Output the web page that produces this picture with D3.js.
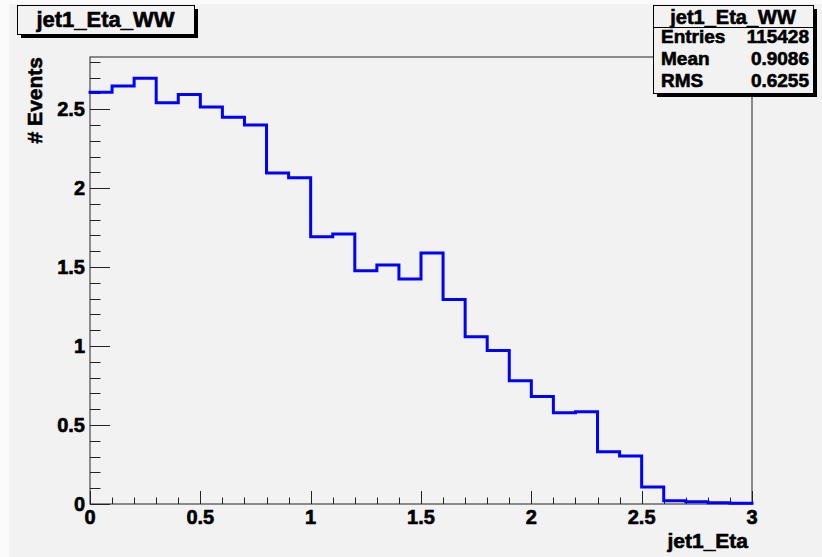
<!DOCTYPE html>
<html>
<head>
<meta charset="utf-8">
<script src="https://cdn.jsdelivr.net/npm/d3@7"></script>
<style>
  html, body { margin: 0; padding: 0; background: #f2f2f2; }
  svg { display: block; }
  text { font-family: "Liberation Sans", Arial, Helvetica, sans-serif; font-weight: bold; fill: #000; stroke: #000; stroke-width: 0.6px; }
</style>
</head>
<body>
<script>
// histogram jet1_Eta_WW, 30 bins 0..3
const binEdges = [0, 0.1, 0.2, 0.3, 0.4, 0.5, 0.6, 0.7, 0.8, 0.9, 1.0,
  1.1, 1.2, 1.3, 1.4, 1.5, 1.6, 1.7, 1.8, 1.9, 2.0,
  2.1, 2.2, 2.3, 2.4, 2.5, 2.6, 2.7, 2.8, 2.9, 3.0];
const counts = [2.607, 2.647, 2.696, 2.540, 2.593, 2.513, 2.449, 2.399, 2.095, 2.065,
  1.692, 1.709, 1.477, 1.513, 1.424, 1.589, 1.295, 1.059, 0.972, 0.780,
  0.681, 0.578, 0.584, 0.331, 0.304, 0.108, 0.021, 0.015, 0.008, 0.004];

const xTicks = [0, 0.5, 1, 1.5, 2, 2.5, 3];
const xTickLabels = ["0", "0.5", "1", "1.5", "2", "2.5", "3"];
const yTicks = [0, 0.5, 1, 1.5, 2, 2.5];
const yTickLabels = ["0", "0.5", "1", "1.5", "2", "2.5"];

const histTitle = "jet1_Eta_WW";
const xTitle = "jet1_Eta";
const yTitle = "# Events";
const statNames = ["Entries", "Mean", "RMS"];
const statValues = ["115428", "0.9086", "0.6255"];

// layout
const W = 822, H = 557;
const frame = {left: 90, right: 752, top: 57, bottom: 504};
const yMax = 2.83;

const x = d3.scaleLinear().domain([0, 3]).range([frame.left, frame.right]);
const y = d3.scaleLinear().domain([0, yMax]).range([frame.bottom, frame.top]);

const svg = d3.select("body").append("svg")
  .attr("width", W)
  .attr("height", H);

// pad background + the pale edge strips of the screenshot
svg.append("rect").attr("width", W).attr("height", H).attr("fill", "#f2f2f2");
svg.append("rect").attr("width", 9).attr("height", H).attr("fill", "#fbfbfb");
svg.append("rect").attr("width", W).attr("height", 4).attr("fill", "#fbfbfb");

// frame
svg.append("rect")
  .attr("x", frame.left).attr("y", frame.top)
  .attr("width", frame.right - frame.left)
  .attr("height", frame.bottom - frame.top)
  .attr("fill", "none")
  .attr("stroke", "#222")
  .attr("stroke-width", 1);

// minor ticks (0.1 spacing) - inside the frame
const minorX = d3.range(0, 31).map(i => i / 10);
const minorY = d3.range(0, 29).map(i => i / 10);

const gTicks = svg.append("g").attr("stroke", "#222").attr("stroke-width", 1);

gTicks.selectAll(".xt").data(minorX).enter().append("line")
  .attr("x1", d => Math.round(x(d)) + 0.5)
  .attr("x2", d => Math.round(x(d)) + 0.5)
  .attr("y1", frame.bottom)
  .attr("y2", (d, i) => frame.bottom - (i % 5 === 0 ? 13 : 6.5));

gTicks.selectAll(".yt").data(minorY).enter().append("line")
  .attr("y1", d => Math.round(y(d)) + 0.5)
  .attr("y2", d => Math.round(y(d)) + 0.5)
  .attr("x1", frame.left)
  .attr("x2", (d, i) => frame.left + (i % 5 === 0 ? 20 : 10.5));

// tick labels
svg.append("g").selectAll("text").data(xTicks).enter().append("text")
  .attr("x", d => x(d))
  .attr("y", 524)
  .attr("text-anchor", "middle")
  .style("font-size", "20px")
  .text((d, i) => xTickLabels[i]);

svg.append("g").selectAll("text").data(yTicks).enter().append("text")
  .attr("x", 85)
  .attr("y", d => y(d) + 7)
  .attr("text-anchor", "end")
  .style("font-size", "20px")
  .text((d, i) => yTickLabels[i]);

// axis titles
svg.append("text")
  .attr("x", 748).attr("y", 548)
  .attr("text-anchor", "end")
  .style("font-size", "21px")
  .text(xTitle);

svg.append("text")
  .attr("transform", `translate(42,${frame.top}) rotate(-90)`)
  .attr("text-anchor", "end")
  .style("font-size", "21px")
  .text(yTitle);

// histogram outline
const pts = [];
counts.forEach((c, i) => {
  pts.push([x(binEdges[i]), y(c)]);
  pts.push([x(binEdges[i + 1]), y(c)]);
});
svg.append("path")
  .attr("d", d3.line()(pts))
  .attr("fill", "none")
  .attr("stroke", "#0000ff")
  .attr("stroke-width", 3)
  .attr("stroke-linejoin", "miter")
  .attr("stroke-linecap", "square");

// title box
const tb = {x: 17, y: 5, w: 177, h: 29};
svg.append("rect").attr("x", tb.x + 4).attr("y", tb.y + 4)
  .attr("width", tb.w).attr("height", tb.h).attr("fill", "#000");
svg.append("rect").attr("x", tb.x + 0.5).attr("y", tb.y + 0.5)
  .attr("width", tb.w).attr("height", tb.h)
  .attr("fill", "#f2f2f2").attr("stroke", "#000");
svg.append("text")
  .attr("x", tb.x + tb.w / 2).attr("y", 27)
  .attr("text-anchor", "middle")
  .style("font-size", "22px")
  .text(histTitle);

// stats box
const sb = {x: 653, y: 5, w: 160, h: 88};
svg.append("rect").attr("x", sb.x + 4).attr("y", sb.y + 4)
  .attr("width", sb.w).attr("height", sb.h).attr("fill", "#000");
svg.append("rect").attr("x", sb.x + 0.5).attr("y", sb.y + 0.5)
  .attr("width", sb.w).attr("height", sb.h)
  .attr("fill", "#f2f2f2").attr("stroke", "#000");
svg.append("line")
  .attr("x1", sb.x).attr("x2", sb.x + sb.w)
  .attr("y1", 27.5).attr("y2", 27.5)
  .attr("stroke", "#000");
svg.append("text")
  .attr("x", sb.x + sb.w / 2).attr("y", 24)
  .attr("text-anchor", "middle")
  .style("font-size", "20px")
  .text(histTitle);

const rowY = [43, 65, 87];
svg.append("g").selectAll("text").data(statNames).enter().append("text")
  .attr("x", 661)
  .attr("y", (d, i) => rowY[i])
  .style("font-size", "19px")
  .text(d => d);
svg.append("g").selectAll("text").data(statValues).enter().append("text")
  .attr("x", 809)
  .attr("y", (d, i) => rowY[i])
  .attr("text-anchor", "end")
  .style("font-size", "19px")
  .text(d => d);
</script>
</body>
</html>
